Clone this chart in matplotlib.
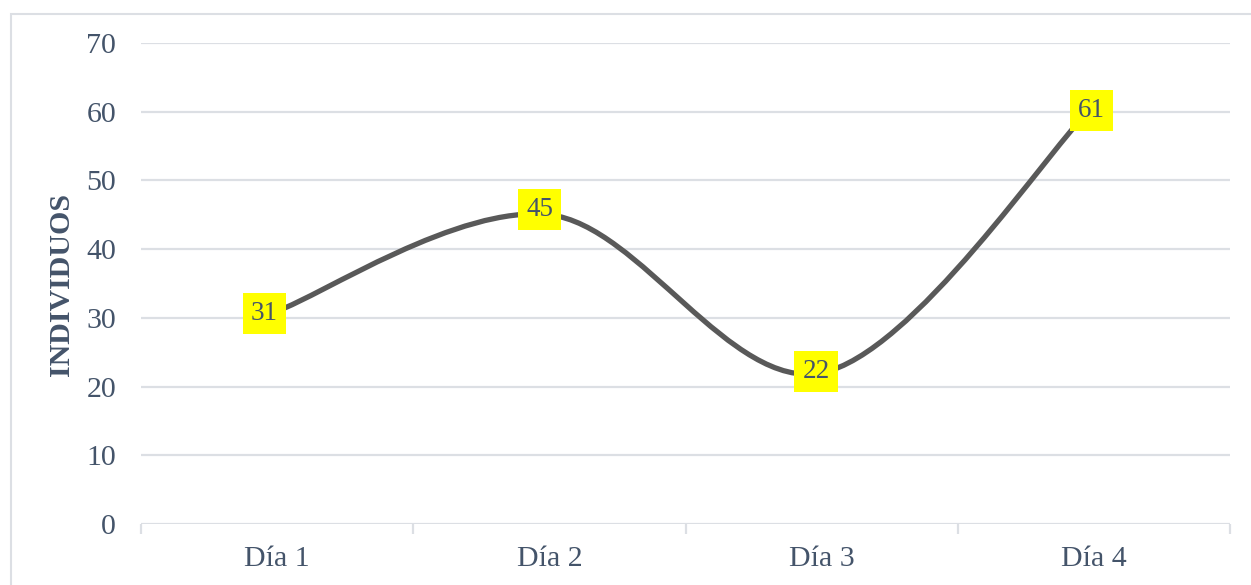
import numpy as np
import matplotlib
matplotlib.use("Agg")
import matplotlib.pyplot as plt
from matplotlib.path import Path
from matplotlib.patches import PathPatch, Rectangle

categories = ["Día 1", "Día 2", "Día 3", "Día 4"]
values = [31, 45, 22, 61]
y_ticks = [0, 10, 20, 30, 40, 50, 60, 70]
y_label = "INDIVIDUOS"

# label placement offsets in points (as in the reference layout)
label_offsets = [(-9, -2), (-7, 4), (-4, 1), (-1.5, -4)]

W, H = 1251, 585
fig = plt.figure(figsize=(W / 100, H / 100), dpi=100)
plt.rcParams['font.family'] = ['Liberation Serif', 'DejaVu Serif']
text_color = "#44546A"
grid_color = "#DCDFE4"

ax = fig.add_axes([141 / W, (H - 524) / H, (1230 - 141) / W, (524 - 43) / H])
ax.set_xlim(-0.5, len(categories) - 0.5)
ax.set_ylim(0, 70)
for s in ax.spines.values():
    s.set_visible(False)
ax.set_yticks(y_ticks)
ax.set_yticklabels([str(v) for v in y_ticks], fontsize=21.5, color=text_color)
ax.tick_params(axis='y', length=0, pad=18)
for v in y_ticks:
    ax.axhline(v, color=grid_color, lw=1.6, zorder=1)

xs = np.arange(len(categories))
ax.set_xticks(xs)
ax.set_xticklabels(categories, fontsize=21.5, color=text_color)
ax.tick_params(axis='x', which='major', length=0, pad=16)
ax.set_xticks(np.arange(len(categories) + 1) - 0.5, minor=True)
ax.tick_params(axis='x', which='minor', length=7, width=1.6, color=grid_color, direction='out')

# smoothed line (Catmull-Rom style Bezier like Excel)
pts = np.column_stack([xs, values]).astype(float)
ext = np.vstack([pts[0], pts, pts[-1]])
verts = [tuple(pts[0])]
codes = [Path.MOVETO]
for i in range(len(pts) - 1):
    p0, p1, p2, p3 = ext[i], ext[i + 1], ext[i + 2], ext[i + 3]
    c1 = p1 + (p2 - p0) / 6.0
    c2 = p2 - (p3 - p1) / 6.0
    verts += [tuple(c1), tuple(c2), tuple(p2)]
    codes += [Path.CURVE4] * 3
ax.add_patch(PathPatch(Path(verts, codes), fill=False, edgecolor="#595959",
                       lw=3.8, capstyle='round', zorder=3))

for x, v, off in zip(xs, values, label_offsets):
    ax.annotate(str(v), (x, v), xytext=off, textcoords='offset points',
                ha='center', va='center', fontsize=19.5,
                color=text_color, zorder=5,
                bbox=dict(boxstyle='square,pad=0.3', fc='#FFFF00', ec='none'))

fig.text(62 / W, (H - 285) / H, y_label, rotation=90, ha='center', va='center',
         fontsize=21.5, fontweight='bold', color=text_color)

# outer chart border (left and top visible)
fig.add_artist(Rectangle((10.5 / W, -0.2), 2.0, (H - 13.5) / H + 0.2,
                         transform=fig.transFigure, fill=False,
                         edgecolor=grid_color, lw=1.5))

fig.savefig("out.png", dpi=100)
